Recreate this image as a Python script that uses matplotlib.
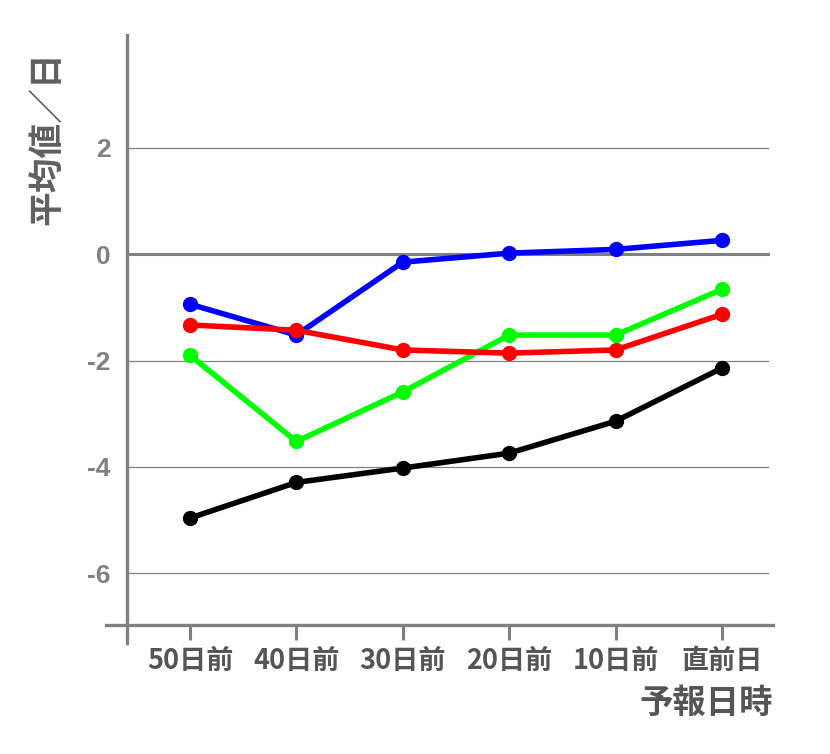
import matplotlib
matplotlib.use('Agg')
import matplotlib.pyplot as plt

plt.rcParams['font.family'] = ['Noto Sans CJK JP', 'DejaVu Sans']

# data
categories = ['50日前', '40日前', '30日前', '20日前', '10日前', '直前日']
blue_vals = [-0.94, -1.52, -0.15, 0.02, 0.09, 0.26]
green_vals = [-1.90, -3.52, -2.59, -1.52, -1.52, -0.66]
red_vals = [-1.33, -1.43, -1.80, -1.86, -1.80, -1.13]
black_vals = [-4.96, -4.29, -4.02, -3.74, -3.14, -2.14]
yticks = [2, 0, -2, -4, -6]

grey = '#808080'

fig = plt.figure(figsize=(8.3, 7.54), dpi=100)
ax = fig.add_axes([127 / 830, 1 - 625 / 754, (773 - 127) / 830, (625 - 35) / 754])

x = list(range(len(categories)))
series = [(blue_vals, '#0000ff'), (green_vals, '#00ff00'),
          (red_vals, '#ff0000'), (black_vals, '#000000')]
for vals, c in series:
    ax.plot(x, vals, color=c, lw=4, marker='o', ms=10, zorder=3)

ax.set_xlim(-0.592, 5.48)
ax.set_ylim(-6.97, 4.12)

# horizontal grid
for y in yticks:
    ax.axhline(y, xmin=0, xmax=0.993, color=grey, lw=2.2 if y == 0 else 0.9, zorder=1)

for s in ax.spines.values():
    s.set_visible(False)
# axis lines drawn by hand so they can overshoot like the original
ax.plot([-0.033, 1.0], [0, 0], transform=ax.transAxes, color=grey, lw=2.4,
        clip_on=False, zorder=2)
ax.plot([0, 0], [-0.03, 1.0], transform=ax.transAxes, color=grey, lw=2.4,
        clip_on=False, zorder=2)

ax.set_xticks(x)
ax.set_xticklabels(categories, fontsize=19.5, color='#555555', fontweight='bold')
ax.tick_params(axis='x', length=11, width=2.2, color=grey, pad=5)
ax.set_yticks(yticks)
ax.set_yticklabels([str(v) for v in yticks], fontsize=19, color=grey,
                   fontweight='bold', family=['Liberation Sans', 'DejaVu Sans'])
ax.tick_params(axis='y', length=0, pad=12)

fig.text(773 / 830, 1 - 703 / 754, '予報日時', ha='right', va='center',
         fontsize=24, color='#555555', fontweight='bold')
fig.text(47 / 830, 1 - 138 / 754, '平均値／日', ha='center', va='center',
         rotation=90, fontsize=25, color='#606060', fontweight='bold')

fig.savefig('out.png', dpi=100)
